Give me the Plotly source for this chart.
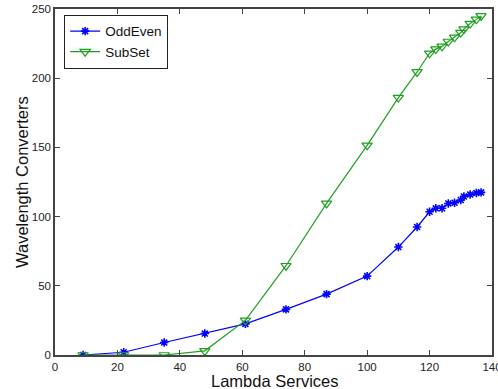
import plotly.graph_objects as go

lambda_services = [9, 22, 35, 48, 61, 74, 87, 100, 110, 116, 120, 122, 124, 126, 128, 130, 131, 133, 135, 136.5]
odd_even = [0, 2, 9, 15.5, 22.5, 33, 44, 57, 78, 92.5, 103.5, 106, 106, 109.5, 110, 112, 114.5, 116, 117, 117.5]
sub_set = [0, 0, 0, 3, 25, 64.5, 109.5, 151.5, 186, 204.5, 218, 221, 223, 226.5, 229.5, 233, 235.5, 239.5, 242.5, 245]

x_ticks = [0, 20, 40, 60, 80, 100, 120, 140]
y_ticks = [0, 50, 100, 150, 200, 250]
x_title = "Lambda Services"
y_title = "Wavelength Converters"

fig = go.Figure()
fig.add_trace(go.Scatter(
    x=lambda_services, y=odd_even, name="OddEven", mode="lines+markers",
    line=dict(color="#0000ff", width=1.2),
    marker=dict(symbol="asterisk-open", size=7, color="#0000ff", line=dict(color="#0000ff", width=1.6)),
))
fig.add_trace(go.Scatter(
    x=lambda_services, y=sub_set, name="SubSet", mode="lines+markers",
    line=dict(color="#1f9f1f", width=1.2),
    marker=dict(symbol="triangle-down-open", size=9, color="#1f9f1f", line=dict(color="#1f9f1f", width=1.2)),
))

axis_common = dict(
    showgrid=False, zeroline=False, showline=True, linecolor="#444444", linewidth=1.5,
    mirror="allticks", ticks="inside", ticklen=5, tickcolor="#444444",
    tickfont=dict(family="Liberation Sans, Arial, sans-serif", size=11.5, color="#222222"),
    automargin=False, ticklabeloverflow="allow",
)

fig.update_layout(
    width=498, height=389,
    margin=dict(l=55, r=6, t=9, b=34),
    paper_bgcolor="white", plot_bgcolor="white",
    font=dict(family="Liberation Sans, Arial, sans-serif", color="#111111"),
    xaxis=dict(range=[0, 140], tickvals=x_ticks, **axis_common),
    yaxis=dict(range=[0, 250], tickvals=y_ticks, **axis_common),
    legend=dict(x=0.021, y=0.983, xanchor="left", yanchor="top",
                bgcolor="white", bordercolor="#222222", borderwidth=1,
                font=dict(size=13.5), tracegroupgap=0, itemwidth=30),
    showlegend=True,
    annotations=[
        dict(text=x_title, xref="paper", yref="paper", x=0.503, y=-0.074,
             xanchor="center", yanchor="middle", showarrow=False,
             font=dict(size=16.5, color="#111111")),
        dict(text=y_title, xref="paper", yref="paper", x=-0.0755, y=0.5,
             xanchor="center", yanchor="middle", showarrow=False, textangle=-90,
             font=dict(size=16.5, color="#111111")),
    ],
)

fig.write_html(
    "out.html",
    config={"displayModeBar": False},
    post_script="document.body.style.margin='0';document.body.style.overflow='hidden';",
)
